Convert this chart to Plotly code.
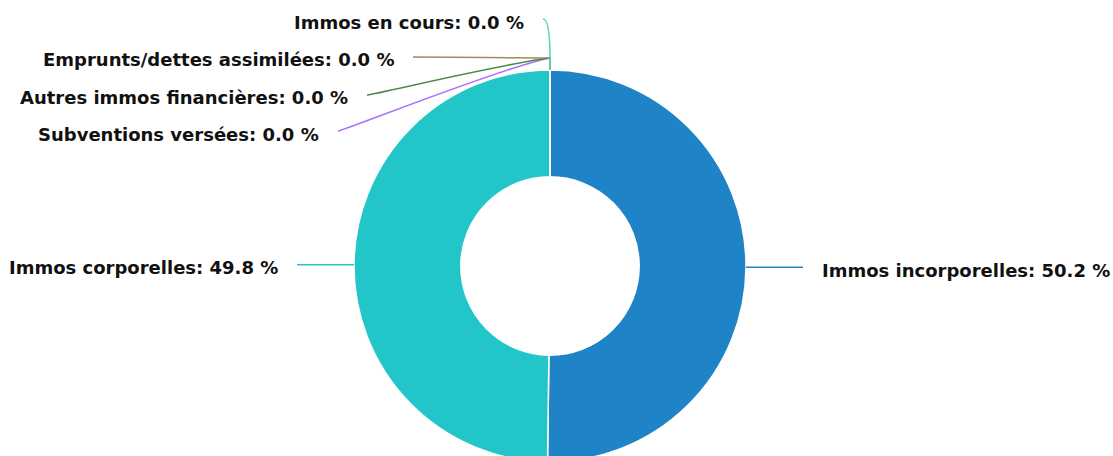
import math
import plotly.graph_objects as go

# ---------------- data ----------------
categories = [
    "Immos incorporelles",
    "Immos corporelles",
    "Subventions versées",
    "Autres immos financières",
    "Emprunts/dettes assimilées",
    "Immos en cours",
]
percent_values = [50.2, 49.8, 0.0, 0.0, 0.0, 0.0]
slice_colors = ["#1f83c7", "#23c6c8", "#a970ff", "#4a8a4a", "#a08c5a", "#5cd3bd"]

# ---------------- layout constants ----------------
W, H = 1113, 464
CX, CY, R = 550.0, 266.0, 196.0
HOLE = 0.455
BREAK = 12.0          # connector break distance beyond the ring
LABEL_R = 253.0       # horizontal reach of the connectors for the big slices
# label anchor (connector end) for the stacked zero-value labels, in pixels
zero_label_anchor = {
    "Subventions versées": (338, 131),
    "Autres immos financières": (367, 95),
    "Emprunts/dettes assimilées": (413, 57),
    "Immos en cours": (543, 19),
}
TEXT_GAP = 17
TEXT_DY = 3


def px(x):
    return x / W


def py(y):
    return (H - y) / H


fig = go.Figure()
fig.add_trace(go.Pie(
    labels=categories,
    values=percent_values,
    hole=HOLE,
    sort=False,
    direction="clockwise",
    rotation=0,
    textinfo="none",
    hoverinfo="label+percent",
    marker=dict(colors=slice_colors, line=dict(color="white", width=1.5)),
    domain=dict(x=[0, 2 * CX / W], y=[(H - CY - R) / H, (H - CY + R) / H]),
    showlegend=False,
))

total = sum(percent_values)
shapes = []
annotations = []
cum = 0.0
for name, v, col in zip(categories, percent_values, slice_colors):
    mid = (cum + v / 2) / total * 2 * math.pi
    cum += v
    sx, sy = CX + R * math.sin(mid), CY - R * math.cos(mid)
    bx, by = CX + (R + BREAK) * math.sin(mid), CY - (R + BREAK) * math.cos(mid)
    if v > 0:
        right = math.sin(mid) >= 0
        ex = CX + LABEL_R if right else CX - LABEL_R
        ey = sy
        path = f"M {px(ex)},{py(ey)} L {px(sx)},{py(sy)}"
    else:
        right = False
        ex, ey = zero_label_anchor[name]
        dx, dy = bx - ex, by - ey
        c1x, c1y = ex + 5, ey
        if abs(dx) > abs(dy):
            c2x, c2y = bx - 0.2 * dx, by - 0.1 * dy
        else:
            c2x, c2y = bx, by - 0.6 * dy
        path = (f"M {px(ex)},{py(ey)} C {px(c1x)},{py(c1y)} {px(c2x)},{py(c2y)} "
                f"{px(bx)},{py(by)} L {px(sx)},{py(sy)}")
    shapes.append(dict(type="path", path=path, xref="paper", yref="paper",
                       line=dict(color=col, width=1.6), layer="above"))
    tx = ex + TEXT_GAP if right else ex - TEXT_GAP
    annotations.append(dict(
        x=px(tx), y=py(ey + TEXT_DY), xref="paper", yref="paper",
        text=f"{name}: {v / total * 100:.1f} %",
        showarrow=False, xanchor="left" if right else "right", yanchor="middle",
        font=dict(family="DejaVu Sans", size=18, color="#111111", weight="bold"),
    ))

fig.update_layout(
    width=W, height=H,
    margin=dict(l=0, r=0, t=0, b=0),
    paper_bgcolor="white",
    plot_bgcolor="white",
    shapes=shapes,
    annotations=annotations,
)

fig.write_html(
    "out.html",
    post_script="document.documentElement.style.overflow='hidden';"
                "document.body.style.overflow='hidden';document.body.style.margin='0';",
)
